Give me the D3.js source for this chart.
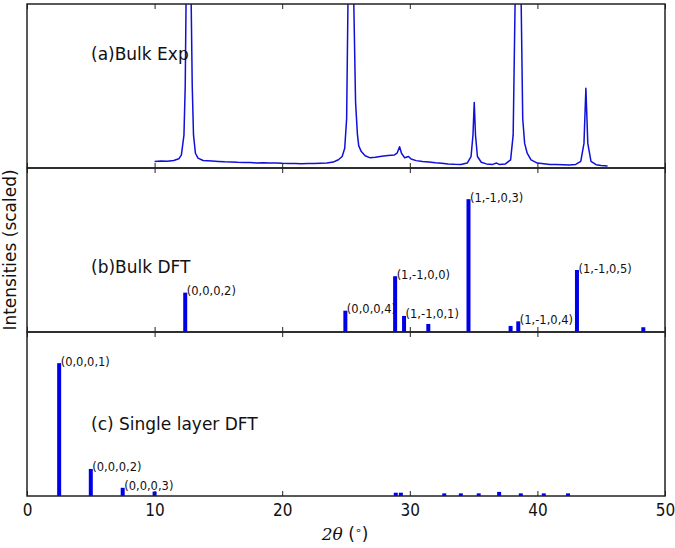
<!DOCTYPE html>
<html><head><meta charset="utf-8">
<script src="https://cdn.jsdelivr.net/npm/d3@7"></script>
<style>body{margin:0;background:#fff}svg{display:block}</style>
</head><body>
<svg id="c" width="675" height="548"></svg>
<script>
// ---- data ----
const xTicks = [0, 10, 20, 30, 40, 50];
const panelLabels = ["(a)Bulk Exp", "(b)Bulk DFT", "(c) Single layer DFT"];
// experimental curve (2theta, scaled intensity), values >1 run off the panel
const expTheta = [10.0,10.5,11.0,11.5,11.9,12.1,12.3,12.4,12.47,12.86,12.95,13.05,13.2,13.4,13.8,14.5,15.0,15.5,16.0,16.5,17.0,17.5,18.0,18.5,19.0,19.5,20.0,20.5,21.0,21.5,22.0,22.5,23.0,23.5,24.0,24.4,24.7,24.9,25.05,25.16,25.6,25.75,25.9,26.0,26.2,26.5,26.9,27.3,27.8,28.3,28.8,29.0,29.2,29.35,29.6,29.9,30.1,30.5,31.0,31.5,32.0,32.5,33.0,33.5,34.0,34.5,34.8,34.95,35.05,35.15,35.3,35.6,36.0,36.5,36.8,37.0,37.5,37.9,38.1,38.26,38.72,38.85,39.0,39.2,39.5,40.0,40.5,41.0,41.5,42.0,42.5,43.0,43.4,43.65,43.8,43.95,44.2,44.6,45.0,45.5];
const expInt   = [0.040,0.043,0.041,0.046,0.056,0.08,0.2,0.5,1.05,1.05,0.5,0.2,0.09,0.06,0.046,0.042,0.040,0.038,0.037,0.035,0.034,0.033,0.031,0.032,0.030,0.031,0.029,0.028,0.027,0.026,0.028,0.027,0.029,0.030,0.036,0.05,0.07,0.12,0.3,1.05,1.05,0.4,0.2,0.135,0.10,0.075,0.062,0.066,0.072,0.076,0.08,0.09,0.13,0.09,0.062,0.07,0.055,0.045,0.040,0.036,0.032,0.029,0.025,0.023,0.022,0.03,0.07,0.2,0.40,0.2,0.07,0.035,0.025,0.022,0.03,0.022,0.025,0.05,0.2,1.05,1.05,0.3,0.15,0.09,0.05,0.03,0.026,0.022,0.021,0.020,0.019,0.022,0.04,0.15,0.486,0.15,0.04,0.02,0.015,0.012];
// bulk DFT peaks
const bulkTheta = [12.4, 24.95, 28.85, 29.55, 31.45, 34.6, 37.9, 38.5, 43.1, 48.3];
const bulkInt   = [0.24, 0.13, 0.34, 0.098, 0.049, 0.81, 0.037, 0.065, 0.378, 0.029];
const bulkHkl   = ["(0,0,0,2)", "(0,0,0,4)", "(1,-1,0,0)", "(1,-1,0,1)", "", "(1,-1,0,3)", "", "(1,-1,0,4)", "(1,-1,0,5)", ""];
// single layer DFT peaks
const slTheta = [2.52, 5.0, 7.5, 10.0, 28.9, 29.3, 32.7, 34.0, 35.4, 37.0, 38.7, 40.5, 42.4];
const slInt   = [0.81, 0.165, 0.05, 0.027, 0.02, 0.02, 0.016, 0.016, 0.016, 0.025, 0.016, 0.016, 0.016];
const slHkl   = ["(0,0,0,1)", "(0,0,0,2)", "(0,0,0,3)", "", "", "", "", "", "", "", "", "", ""];

// ---- layout ----
const svg = d3.select("#c");
const L = 27, R = 665;
const panels = [{top: 4, bot: 168}, {top: 168, bot: 332}, {top: 332, bot: 496}];
const x = d3.scaleLinear().domain([0, 50]).range([L, R]);
const ys = panels.map(p => d3.scaleLinear().domain([0, 1]).range([p.bot, p.top]));
const blue = "#0000e8";

svg.append("defs").append("clipPath").attr("id", "clipA")
  .append("rect").attr("x", L).attr("y", panels[0].top).attr("width", R - L).attr("height", panels[0].bot - panels[0].top);

// (a) experimental line
const expData = expTheta.map((t, i) => [t, expInt[i]]);
svg.append("path").datum(expData)
  .attr("clip-path", "url(#clipA)")
  .attr("fill", "none").attr("stroke", "#1010d8").attr("stroke-width", 1.5)
  .attr("stroke-linejoin", "round")
  .attr("d", d3.line().x(d => x(d[0])).y(d => ys[0](d[1])));

function bars(thetas, ints, hkl, y) {
  const g = svg.append("g");
  thetas.forEach((t, i) => {
    g.append("rect").attr("x", x(t) - 2).attr("width", 4)
      .attr("y", y(ints[i])).attr("height", y(0) - y(ints[i]))
      .attr("fill", blue);
    if (hkl[i]) {
      g.append("text").attr("x", x(t) + 1.5).attr("y", y(ints[i]) - 1)
        .attr("dominant-baseline", "middle")
        .attr("font-family", "DejaVu Sans").attr("font-size", 11.5).attr("fill", "#111")
        .text(hkl[i]);
    }
  });
}
bars(bulkTheta, bulkInt, bulkHkl, ys[1]);
bars(slTheta, slInt, slHkl, ys[2]);

// frames and ticks
panels.forEach((p, k) => {
  svg.append("g").attr("transform", `translate(0,${p.bot})`)
    .call(d3.axisBottom(x).tickValues(xTicks).tickSizeInner(-5).tickSizeOuter(0).tickFormat(""))
    .call(g => g.select(".domain").remove())
    .call(g => g.selectAll("line").attr("stroke", "#222"));
  svg.append("g").attr("transform", `translate(0,${p.top})`)
    .call(d3.axisTop(x).tickValues(xTicks).tickSizeInner(-5).tickSizeOuter(0).tickFormat(""))
    .call(g => g.select(".domain").remove())
    .call(g => g.selectAll("line").attr("stroke", "#222"));
  svg.append("rect").attr("x", L).attr("y", p.top).attr("width", R - L).attr("height", p.bot - p.top)
    .attr("fill", "none").attr("stroke", "#222").attr("stroke-width", 1.5);
  svg.append("text").attr("x", 91).attr("y", [55, 268, 425][k])
    .attr("dominant-baseline", "middle")
    .attr("font-family", "DejaVu Sans").attr("font-size", 17).attr("fill", "#111")
    .text(panelLabels[k]);
});

// x tick labels
svg.append("g").attr("transform", `translate(0,${panels[2].bot})`)
  .call(d3.axisBottom(x).tickValues(xTicks).tickSize(0).tickPadding(8).tickFormat(d3.format("d")))
  .call(g => g.select(".domain").remove())
  .call(g => g.selectAll("text").attr("font-family", "DejaVu Sans Condensed").attr("font-size", 17).attr("fill", "#111"));

// axis labels
const xl = svg.append("text").attr("x", 345).attr("y", 540).attr("text-anchor", "middle")
  .attr("font-size", 17).attr("fill", "#111");
xl.append("tspan").attr("font-family", "DejaVu Serif").attr("font-style", "italic").text("2θ");
xl.append("tspan").attr("font-family", "DejaVu Sans").text(" (");
xl.append("tspan").attr("font-family", "DejaVu Sans").attr("font-size", 11).attr("dy", -6).text("∘");
xl.append("tspan").attr("font-family", "DejaVu Sans").attr("dy", 6).text(")");

svg.append("text").attr("transform", "translate(16,250) rotate(-90)")
  .attr("text-anchor", "middle").attr("font-family", "DejaVu Sans").attr("font-size", 17).attr("fill", "#111")
  .text("Intensities (scaled)");
</script>
</body></html>
